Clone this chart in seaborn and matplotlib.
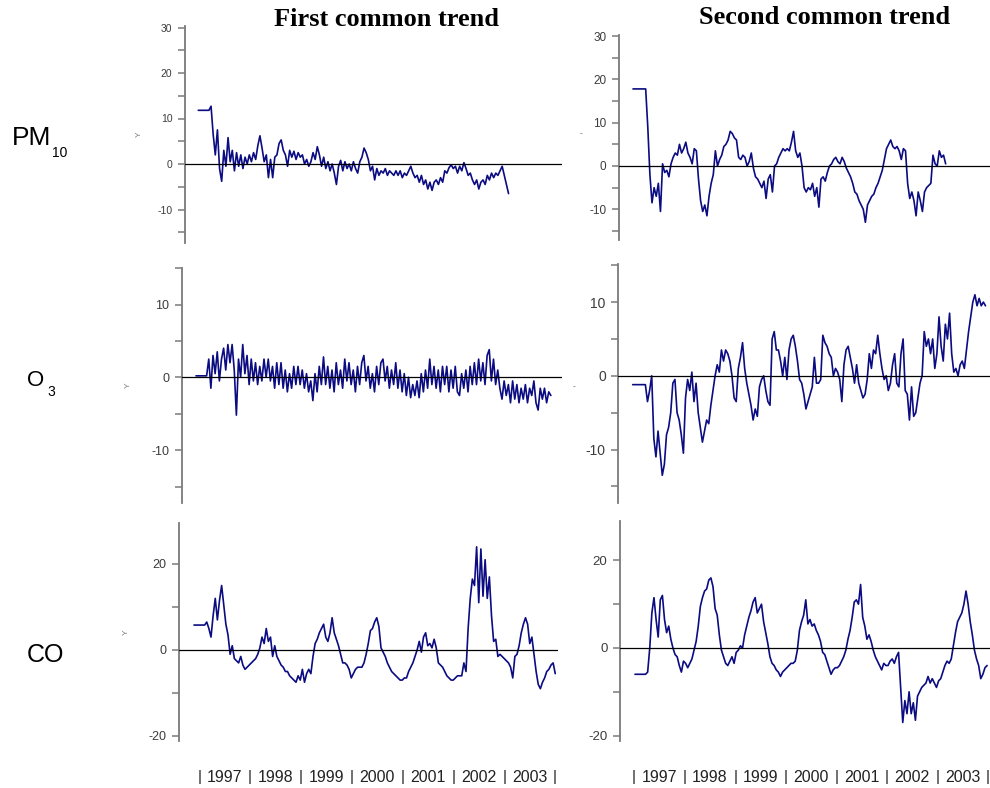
import numpy as np
import pandas as pd
import matplotlib
matplotlib.use("Agg")
import matplotlib.pyplot as plt
import seaborn as sns

# Common trends of the pollutant series, sampled twice a month from the first observation
STEP = 1 / 24
START_YEAR = 1997

pm10_trend1 = [
    11.8, 11.8, 11.8, 11.8, 11.8, 11.8, 12.7,
    6.5, 2.0, 7.5, -1.0, -3.8, 3.0, -0.5, 5.8, 0.5, 3.0, -1.5, 2.5, -0.5, 2.0, -1.0, 1.5, 0.0,
    2.0, 0.5, 2.5, 1.0, 4.0, 6.2, 3.5, 0.5, 2.0, -3.0, 1.0, -3.0, 1.5, 2.0, 4.5, 5.3, 3.0, 2.0, -0.5, 3.0, 1.5, 2.8, 1.0, 2.5,
    1.5, 2.0, 0.0, 1.0, -0.5, 0.5, 2.5, 1.0, 3.8, 2.0, -0.5, 1.5, -1.0, 0.5, -1.5, 0.0, -2.0, -4.5, -0.5, 0.8, -1.5, 0.5, -1.0, 0.0,
    -1.5, 0.5, -1.0, -2.0, 0.5, 1.5, 3.5, 2.5, 1.0, -1.5, -0.5, -3.5, -1.0, -2.5, -1.5, -2.0, -1.0, -2.5, -1.5, -2.0, -2.5, -1.5, -2.5, -1.5,
    -3.0, -2.0, -2.5, -1.5, -0.5, -2.0, -3.0, -2.5, -4.0, -2.5, -4.5, -3.5, -5.5, -4.0, -5.8, -4.0, -3.5, -4.5, -3.0, -4.0, -1.5, -2.0, -0.8, -0.2,
    -1.0, -0.5, -2.0, -0.5, -1.5, 0.3, -1.0, -2.5, -2.0, -3.5, -4.5, -3.5, -5.5, -4.0, -3.5, -4.5, -2.5, -3.5, -2.0, -3.0, -2.0, -2.5, -1.5, -0.5, -2.5, -4.5, -6.5,
]

pm10_trend2 = [
    17.8, 17.8, 17.8, 17.8, 17.8, 17.8, 17.8,
    9.0, -2.0, -8.5, -5.0, -7.0, -4.0, -10.5, 0.5, -1.5, -1.0, -2.5, 0.5, 2.0, 3.0, 2.5, 5.0, 3.0,
    4.0, 5.5, 3.0, 2.0, 0.5, 4.0, 3.5, -3.0, -8.0, -10.5, -9.0, -11.5, -7.0, -4.0, -2.0, 3.5, 0.0, 1.5, 2.5, 4.5, 5.0, 6.0, 8.0, 7.5,
    6.5, 6.0, 2.0, 1.5, 2.5, 2.0, 0.0, 1.0, 3.0, -0.5, -2.5, -3.0, -4.0, -5.0, -3.5, -7.5, -3.0, -2.0, -6.0, 0.0, 0.5, 2.0, 3.0, 4.0,
    3.5, 4.0, 3.5, 5.5, 8.0, 3.5, 2.0, 3.0, 0.0, -5.0, -6.0, -5.0, -5.5, -4.0, -7.0, -5.0, -9.5, -3.0, -2.5, -3.5, -1.5, 0.0, 0.5, 1.5,
    2.0, 1.0, 0.5, 2.0, 1.0, -0.5, -1.5, -2.5, -4.0, -6.0, -6.5, -8.0, -9.0, -10.0, -13.0, -9.0, -8.0, -7.0, -6.5, -5.0, -4.0, -2.5, -1.0, 1.5,
    4.0, 5.0, 6.0, 4.5, 4.0, 4.5, 3.5, 1.5, 4.0, 3.5, -4.0, -7.5, -6.0, -8.0, -11.5, -6.0, -8.0, -10.5, -6.0, -5.0, -4.5, -4.0, 2.5, 0.5, 0.0, 3.5, 2.0, 2.5, 0.5,
]

o3_trend1 = [
    0.2, 0.2, 0.2, 0.2, 0.2, 0.2, 2.5, -1.5, 3.0, 0.5, 3.5, -0.5, 2.5, 4.0, 1.0, 4.5, 2.0, 4.5, 1.0, -5.2, 2.5, 0.0, 4.5, 0.5,
    3.0, -1.0, 2.5, -0.5, 2.0, -1.0, 1.5, -0.5, 2.5, 0.0, 2.5, -0.5, 1.5, -1.5, 2.0, -1.0, 2.0, -1.5, 1.0, -2.0, 0.5, -1.5, 1.5, -1.0,
    1.5, -1.0, 1.0, -1.5, 0.5, -2.0, -0.5, -3.2, 0.5, -2.0, 1.5, -1.0, 2.8, -1.0, 1.5, -1.5, 1.0, -2.0, 2.0, -1.0, 1.0, -1.5, 2.5, -0.5,
    2.0, -1.0, 1.0, -2.0, 1.5, -1.0, 2.0, 3.0, -0.5, 1.5, -1.5, 0.5, -2.0, 1.5, -1.0, 2.0, 2.5, -0.5, 1.5, -1.5, 1.0, -1.0, 2.0, -1.5,
    1.0, -2.0, 0.5, -2.5, 0.0, -2.8, -1.0, -2.5, -0.5, -2.8, 0.5, -2.0, 1.0, -1.5, 2.5, -1.0, 1.5, -1.5, 1.0, -2.0, 1.5, -1.0, 1.5, -2.0,
    1.0, -1.5, 1.5, -2.0, -2.5, 0.5, -1.5, 1.0, -2.0, 1.5, -1.0, 2.0, -1.0, 2.5, -0.5, 2.0, -1.0, 3.0, 3.8, -0.5, 2.5, -1.0, 1.0, -1.5,
    -3.0, -0.5, -2.5, -1.0, -3.5, -0.5, -3.0, -1.0, -3.5, -1.5, -3.0, -1.0, -3.5, -1.5, -2.5, -0.5, -3.5, -4.5, -1.5, -3.0, -1.5, -3.5, -2.0, -2.5,
]

o3_trend2 = [
    -1.2, -1.2, -1.2, -1.2, -1.2, -1.2, -1.2,
    -3.5, -2.0, 0.0, -8.5, -11.0, -7.5, -10.5, -13.5, -12.0, -8.0, -7.0, -5.0, -1.0, -0.5, -5.0, -6.0, -8.0,
    -10.5, -3.0, -0.5, -2.0, 0.5, -3.5, -1.0, -5.0, -7.0, -9.0, -7.5, -6.0, -6.5, -4.0, -2.0, 0.0, 1.5, 0.5, 3.5, 2.0, 3.5, 3.0, 2.0, 0.0,
    -3.0, -3.5, 1.0, 2.5, 4.5, 1.0, -1.0, -2.5, -4.0, -6.0, -4.5, -5.5, -1.5, -0.5, 0.0, -2.0, -3.5, -4.0, 5.0, 6.0, 3.5, 3.5, 2.0, 0.0,
    2.5, -0.5, 3.5, 5.0, 5.5, 4.0, 2.0, -0.5, -1.0, -2.5, -4.5, -3.5, -2.5, -1.5, 2.5, -1.0, -1.0, -0.5, 5.5, 4.5, 4.0, 3.0, 2.5, 0.0,
    1.0, 0.5, -0.5, -3.5, 1.5, 3.5, 4.0, 2.5, 1.0, -1.0, 1.5, -1.0, -2.0, -3.0, -2.5, -0.5, 3.0, 1.0, 3.5, 3.0, 5.5, 3.0, 1.0, -0.5,
    0.0, -2.0, -1.0, 1.5, 3.0, -1.0, -1.5, 3.0, 5.0, -2.0, -2.5, -6.0, -1.5, -5.5, -5.0, -3.0, -1.0, 0.0, 6.0, 4.0, 5.0, 3.0, 5.0, 1.0,
    3.0, 8.0, 4.0, 2.0, 7.0, 5.0, 8.5, 3.0, 0.5, 1.0, 0.0, 1.5, 2.0, 1.0, 3.5, 6.0, 8.0, 10.0, 11.0, 9.5, 10.5, 9.5, 10.0, 9.5,
]

co_trend1 = [
    5.8, 5.8, 5.8, 5.8, 5.8, 5.8,
    6.5, 5.0, 3.0, 8.0, 12.0, 7.0, 11.5, 15.0, 10.5, 6.0, 3.5, -1.0, 1.0, -2.0, -2.5, -3.0, -1.5, -3.5,
    -4.5, -4.0, -3.5, -3.0, -2.5, -2.0, -1.0, 0.5, 3.0, 1.5, 5.0, 2.0, 3.0, -1.5, 1.0, -1.5, -2.5, -3.5, -4.0, -5.0, -5.0, -6.0, -6.5, -7.0,
    -7.5, -6.0, -7.0, -4.5, -7.5, -5.5, -4.5, -5.5, -1.5, 1.5, 2.5, 4.0, 5.0, 6.0, 3.0, 2.0, 4.0, 7.5, 4.0, 2.5, 1.0, -1.0, -3.0, -3.0,
    -3.5, -4.5, -6.5, -5.5, -4.5, -4.0, -4.0, -4.0, -3.0, -1.0, 1.5, 4.5, 5.0, 6.5, 7.5, 5.5, 0.5, -0.5, -1.5, -3.0, -4.0, -5.0, -5.5, -6.0,
    -6.5, -7.0, -7.0, -6.5, -6.5, -5.0, -4.0, -3.0, -1.5, 0.0, 2.0, -0.5, 3.0, 4.0, 1.0, 1.5, 0.5, 2.5, 0.5, -3.0, -3.5, -4.0, -5.0, -6.0,
    -6.5, -7.0, -7.0, -6.5, -6.0, -6.0, -6.0, -3.0, -5.0, 5.0, 12.0, 16.5, 15.0, 24.0, 11.0, 23.5, 12.5, 21.0, 12.0, 17.0, 8.0, 2.0, 2.5, -1.5,
    -1.0, -1.5, -2.0, -2.5, -3.0, -4.0, -6.5, -1.5, -1.0, 1.0, 4.0, 6.0, 7.5, 6.0, 1.5, 3.0, -1.0, -5.0, -8.0, -9.0, -7.5, -6.5, -5.0, -4.5,
    -3.5, -3.0, -5.5,
]

co_trend2 = [
    -6.0, -6.0, -6.0, -6.0, -6.0, -6.0,
    -5.5, 0.0, 8.0, 11.5, 6.5, 2.5, 11.0, 12.0, 6.5, 3.5, 5.0, 2.0, 0.0, -1.5, -2.0, -4.0, -5.5, -3.0,
    -3.5, -4.5, -3.5, -2.5, -0.5, 1.5, 5.0, 9.5, 11.5, 13.0, 13.5, 15.5, 16.0, 14.0, 9.0, 7.5, 3.0, -0.5, -2.0, -3.5, -4.0, -3.0, -2.0, -3.5,
    -1.0, -0.5, 0.5, 0.0, 3.0, 5.0, 7.0, 8.5, 10.5, 11.5, 8.0, 9.0, 10.0, 6.0, 3.5, 1.0, -2.0, -3.5, -4.0, -5.0, -5.5, -6.5, -5.5, -5.0,
    -4.5, -4.0, -3.5, -3.5, -3.0, -0.5, 4.0, 6.0, 7.5, 11.0, 5.5, 6.5, 5.0, 5.5, 4.0, 3.0, 1.5, -1.0, -1.5, -3.0, -4.5, -6.0, -5.0, -4.5,
    -4.5, -4.0, -3.0, -2.0, -0.5, 2.0, 4.0, 7.0, 10.5, 11.0, 10.0, 14.5, 7.0, 5.0, 2.0, 3.0, 1.5, -0.5, -2.0, -3.0, -4.0, -5.0, -3.5, -4.0,
    -4.0, -3.0, -2.5, -3.5, -2.0, -1.0, -9.0, -17.0, -12.0, -15.0, -10.0, -15.0, -12.5, -16.5, -11.0, -10.0, -9.0, -8.5, -8.0, -6.5, -8.0, -7.0, -8.0, -9.0,
    -7.5, -7.0, -5.5, -4.0, -3.0, -3.5, -2.5, 0.5, 3.5, 6.0, 7.0, 8.0, 10.0, 13.0, 10.0, 6.0, 3.0, -0.5, -2.5, -4.0, -7.0, -6.0, -4.5, -4.0,
]

years = ["1997", "1998", "1999", "2000", "2001", "2002", "2003"]
titles = ["First common trend", "Second common trend"]
row_names = [("PM", "10"), ("O", "3"), ("CO", "")]

# Figure layout in pixels
W, H, DPI = 990, 788, 100
LINE_COLOR = "#0b0b82"
AXIS_GRAY = "#7a7a7a"
TICK_TEXT = "#3c3c3c"

sns.set_style("white")
plt.rcParams["font.family"] = ["Liberation Sans", "DejaVu Sans"]
plt.rcParams["text.color"] = "black"

fig = plt.figure(figsize=(W / DPI, H / DPI), dpi=DPI)

# spine_x, first-sample x, px per year, right edge, top, bottom, zero y, px per unit,
# tick step, label step, tick-label size, series
panels = [
    (185.0, 198.3, 51.0, 562.0, 25.5, 243.0, 164.0, 4.55, 5, 10, 7.5, pm10_trend1),
    (619.0, 633.0, 50.7, 990.0, 35.0, 240.0, 166.0, 4.33, 5, 10, 8.5, pm10_trend2),
    (182.0, 196.0, 51.0, 562.0, 268.0, 503.0, 377.3, 7.28, 5, 10, 9.0, o3_trend1),
    (618.3, 632.7, 50.7, 990.0, 264.0, 503.0, 375.8, 7.37, 5, 10, 10.0, o3_trend2),
    (179.3, 194.0, 51.0, 558.3, 523.0, 740.7, 650.0, 4.30, 10, 20, 9.0, co_trend1),
    (620.0, 635.0, 50.6, 990.0, 520.7, 740.7, 648.0, 4.38, 10, 20, 9.5, co_trend2),
]

axes = []
for sx, x0, ppy, rx, ty, by, zy, ppu, tstep, lstep, tsize, series in panels:
    ax = fig.add_axes([sx / W, 1 - by / H, (rx - sx) / W, (by - ty) / H])
    df = pd.DataFrame({
        "year": START_YEAR + np.arange(len(series)) * STEP,
        "value": series,
    })
    sns.lineplot(data=df, x="year", y="value", ax=ax, color=LINE_COLOR,
                 linewidth=1.2, estimator=None, sort=False)
    ax.axhline(0, color="black", linewidth=0.9, zorder=3)
    ax.set_xlim(START_YEAR - (x0 - sx) / ppy, START_YEAR + (rx - x0) / ppy)
    ax.set_ylim((zy - by) / ppu, (zy - ty) / ppu)

    lo = int(np.ceil(((zy - by) / ppu) / tstep)) * tstep
    hi = int(np.floor(((zy - ty) / ppu) / tstep)) * tstep
    ticks = np.arange(lo, hi + 1, tstep)
    ax.set_yticks(ticks)
    ax.set_yticklabels([str(int(t)) if t % lstep == 0 else "" for t in ticks],
                       fontsize=tsize, color=TICK_TEXT)
    ax.tick_params(axis="y", direction="out", length=5, width=1.1,
                   color=AXIS_GRAY, pad=4, left=True)
    ax.set_xticks([])
    ax.set_xlabel("")
    for side in ["top", "right", "bottom"]:
        ax.spines[side].set_visible(False)
    ax.spines["left"].set_color(AXIS_GRAY)
    ax.spines["left"].set_linewidth(1.3)
    ax.set_facecolor("none")
    axes.append(ax)

# axis names
axes[0].set_ylabel("Y", fontsize=6, color="#777777")
axes[0].yaxis.set_label_coords((143 - 185) / (562 - 185), 0.5)
axes[2].set_ylabel("Y", fontsize=6, color="#777777")
axes[2].yaxis.set_label_coords((132 - 182) / (562 - 182), 0.5)
axes[4].set_ylabel("Y", fontsize=6, color="#777777")
axes[4].yaxis.set_label_coords((130 - 179.3) / (558.3 - 179.3), 0.5)
axes[1].set_ylabel("-", fontsize=6, color="#555555", rotation=0)
axes[1].yaxis.set_label_coords((581 - 619) / (990 - 619), 0.5)
axes[3].set_ylabel("-", fontsize=6, color="#555555", rotation=0)
axes[3].yaxis.set_label_coords((574 - 618.3) / (990 - 618.3), 0.47)
axes[5].set_ylabel("")

# column titles
fig.text(387 / W, 1 - 26 / H, titles[0], ha="center", va="baseline", color="black",
         fontsize=19, fontweight="bold", family=["Liberation Serif", "DejaVu Serif"])
fig.text(825 / W, 1 - 24 / H, titles[1], ha="center", va="baseline", color="black",
         fontsize=19, fontweight="bold", family=["Liberation Serif", "DejaVu Serif"])

# row names with subscripts
row_pos = [(12, 145, 19, 52, 157), (27, 386, 16, 47, 396), (27, 662, 18, 0, 0)]
for (main, sub), (mx, my, ms, sx_, sy_) in zip(row_names, row_pos):
    fig.text(mx / W, 1 - my / H, main, ha="left", va="baseline", fontsize=ms, color="black")
    if sub:
        fig.text(sx_ / W, 1 - sy_ / H, sub, ha="left", va="baseline", fontsize=10, color="black")

# year strips under the bottom row
for x_start, x_end in [(199.3, 555.0), (634.0, 988.0)]:
    yax = fig.add_axes([x_start / W, 1 - 790 / H, (x_end - x_start) / W, 25 / H])
    yax.set_xlim(START_YEAR, START_YEAR + len(years))
    yax.set_ylim(0, 1)
    yax.axis("off")
    for j in range(len(years) + 1):
        yax.text(START_YEAR + j, 0.5, "|", ha="center", va="center",
                 fontsize=11, color="#222222")
    for j, label in enumerate(years):
        yax.text(START_YEAR + j + 0.5, 0.5, label, ha="center", va="center",
                 fontsize=11.5, color="#222222")

fig.savefig("out.png", dpi=DPI)
